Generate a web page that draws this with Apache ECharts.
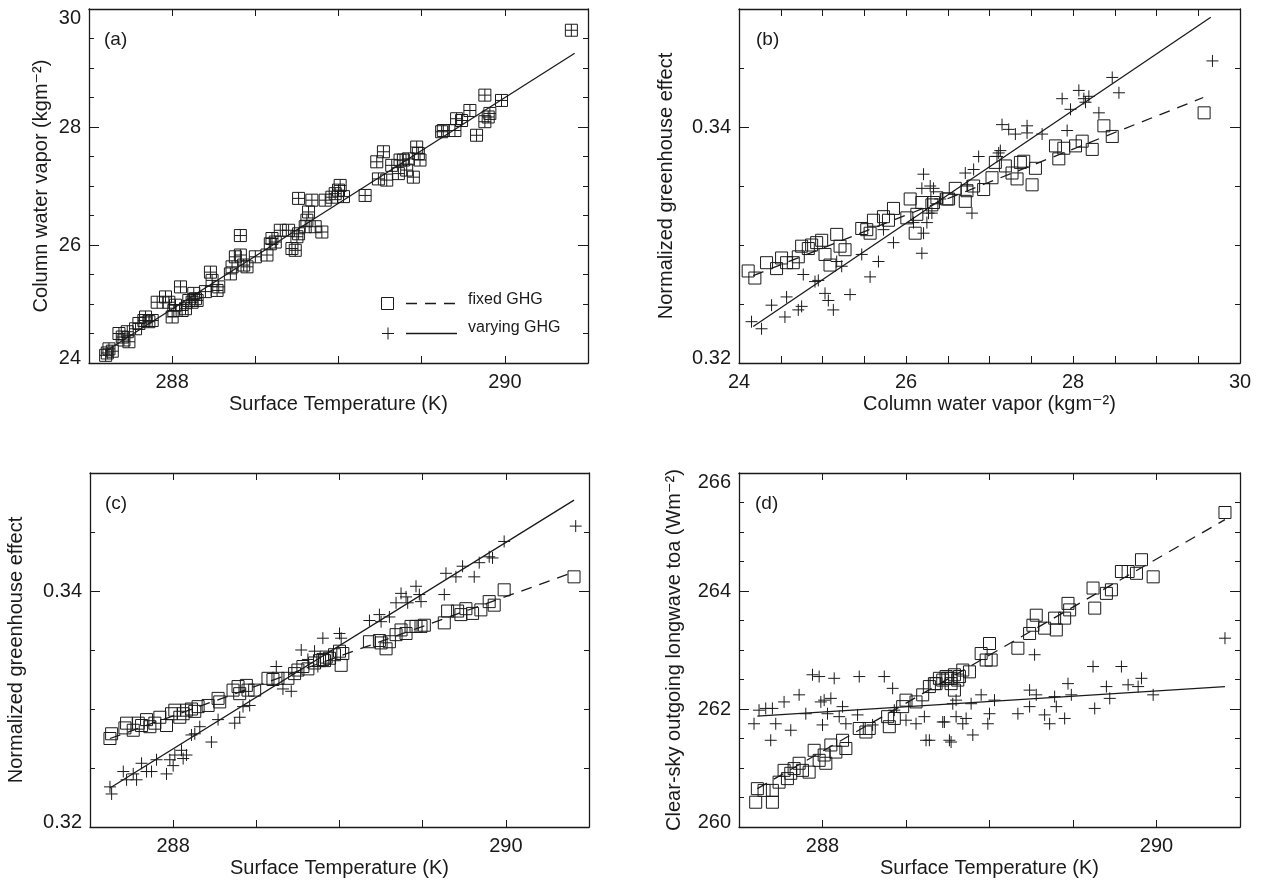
<!DOCTYPE html>
<html>
<head>
<meta charset="utf-8">
<script src="https://cdn.jsdelivr.net/npm/echarts@6/dist/echarts.min.js"></script>
<style>
  html, body { margin: 0; padding: 0; background: #ffffff; }
  #chart { width: 1263px; height: 882px; }
</style>
</head>
<body>
<div id="chart"></div>
<script>
// ---- (a) surface temperature vs column water vapour ----
const aTs = [287.60,287.62,287.64,287.61,287.68,287.70,287.73,287.74,287.71,287.78,287.80,287.83,287.84,287.86,287.88,
  287.91,287.96,287.98,288.00,288.01,288.02,288.05,288.06,288.08,288.10,288.12,288.13,288.14,288.15,
  288.20,288.23,288.24,288.27,288.28,
  288.35,288.36,288.38,288.41,288.41,288.43,288.45,288.50,288.57,
  288.59,288.60,288.62,288.65,288.70,288.72,288.74,288.75,288.76,288.76,288.80,288.81,288.82,288.84,288.86,288.90,288.92,288.96,288.98,289.00,289.01,
  289.03,
  289.16,289.23,289.24,289.27,289.29,289.32,289.36,289.37,289.39,289.41,289.42,289.45,289.47,289.48,289.49,
  289.62,289.63,289.70,289.71,289.74,289.79,289.83,289.88,289.90,289.91,289.88,289.98,290.40];
const aCwv = [24.13,24.24,24.20,24.17,24.50,24.44,24.53,24.36,24.39,24.58,24.67,24.72,24.78,24.70,24.72,
  25.03,25.12,25.03,24.78,24.89,24.98,25.29,24.89,24.92,25.06,25.03,25.18,25.09,25.06,
  25.21,25.54,25.40,25.23,25.29,
  25.51,25.63,25.80,26.16,25.83,25.66,25.63,25.80,25.83,
  26.02,26.11,26.05,26.25,26.25,25.94,25.91,26.14,26.19,26.79,26.31,26.42,26.56,26.76,26.31,26.22,26.76,26.81,26.87,26.93,27.01,
  26.82,
  26.84,27.41,27.12,27.58,27.10,27.35,27.21,27.44,27.44,27.27,27.46,27.15,27.66,27.55,27.44,
  27.92,27.94,27.94,28.14,28.11,28.28,27.86,28.09,28.17,28.23,28.54,28.45,29.64];
const aFitTs = [287.60, 290.42];
const aFitCwv = [24.20, 29.25];

// ---- (b) column water vapour vs normalized greenhouse effect ----
const bCwvFixed = [24.11,24.19,24.33,24.45,24.51,24.57,24.65,24.71,24.75,24.83,24.87,24.93,24.99,25.03,25.09,25.17,25.21,25.27,
  25.47,25.53,25.57,25.61,25.73,25.79,25.85,
  26.01,26.05,26.11,26.13,26.19,
  26.31,26.33,26.37,26.49,26.51,26.59,
  26.71,26.73,26.81,26.93,
  27.03,27.07,27.19,27.27,27.33,27.37,27.41,27.51,27.55,
  27.79,27.83,27.89,
  28.03,28.11,28.23,28.37,28.47,
  29.57];
const bGFixed = [0.3278,0.3272,0.3285,0.3280,0.3289,0.3285,0.3285,0.3290,0.3299,0.3297,0.3300,0.3302,0.3304,0.3292,0.3283,0.3309,0.3299,0.3296,
  0.3314,0.3313,0.3310,0.3321,0.3324,0.3321,0.3331,
  0.3323,0.3339,0.3310,0.3326,0.3336,
  0.3334,0.3336,0.3340,0.3339,0.3339,0.3348,
  0.3337,0.3346,0.3350,0.3347,
  0.3357,0.3370,0.3367,0.3361,0.3356,0.3370,0.3371,0.3351,0.3365,
  0.3384,0.3373,0.3382,
  0.3384,0.3388,0.3381,0.3401,0.3392,
  0.3412];
const bCwvVarying = [24.15,24.27,24.39,24.55,24.57,24.71,24.75,24.77,24.91,24.95,
  25.03,25.07,25.13,25.17,25.23,25.33,25.47,25.57,25.67,25.73,25.85,
  26.09,26.19,26.21,26.21,26.25,26.27,26.33,26.41,
  26.19,26.29,26.31,
  26.71,26.73,26.79,26.81,26.87,
  27.09,27.13,27.11,27.15,27.23,27.31,27.45,27.45,27.63,
  27.87,27.93,27.97,28.07,28.13,28.15,28.19,28.31,28.47,28.55,
  29.67];
const bGVarying = [0.3235,0.3229,0.3249,0.3239,0.3256,0.3245,0.3248,0.3275,0.3269,0.3270,
  0.3259,0.3253,0.3245,0.3286,0.3282,0.3258,0.3292,0.3273,0.3286,0.3313,0.3302,
  0.3319,0.3348,0.3360,0.3310,0.3319,0.3327,0.3348,0.3339,
  0.3293,0.3350,0.3327,
  0.3361,0.3350,0.3327,0.3364,0.3375,
  0.3375,0.3380,0.3378,0.3402,0.3398,0.3394,0.3401,0.3395,0.3394,
  0.3424,0.3397,0.3415,0.3431,0.3424,0.3421,0.3426,0.3412,0.3442,0.3429,
  0.3456];
const bFitFixedCwv = [24.17, 29.56];
const bFitFixedG = [0.3274, 0.3425];
const bFitVaryingCwv = [24.17, 29.65];
const bFitVaryingG = [0.3231, 0.3493];

// ---- (c) surface temperature vs normalized greenhouse effect ----
const cTsFixed = [287.62,287.63,287.71,287.72,287.76,287.79,287.81,287.84,287.86,287.89,
  287.92,287.96,287.99,288.01,288.04,288.06,288.08,288.11,288.13,288.15,
  288.21,288.27,288.28,288.36,288.39,288.40,288.44,288.45,288.49,288.57,
  288.60,288.63,288.69,288.73,288.75,288.78,288.81,288.85,288.88,288.91,288.94,
  288.90,288.92,288.97,289.00,289.01,289.02,
  289.18,289.24,289.25,289.28,289.30,289.34,289.37,289.40,289.43,289.46,
  289.49,289.51,289.63,289.65,289.71,289.73,289.76,289.80,289.85,289.90,
  289.93,289.99,290.41];
const cGFixed = [0.3275,0.3279,0.3284,0.3288,0.3282,0.3288,0.3286,0.3291,0.3285,0.3288,
  0.3293,0.3286,0.3296,0.3299,0.3293,0.3296,0.3299,0.3300,0.3298,0.3302,
  0.3303,0.3309,0.3306,0.3316,0.3319,0.3313,0.3320,0.3316,0.3316,0.3326,
  0.3325,0.3326,0.3326,0.3330,0.3333,0.3336,0.3334,0.3339,0.3341,0.3341,0.3343,
  0.3342,0.3344,0.3346,0.3349,0.3337,0.3347,
  0.3357,0.3358,0.3356,0.3351,0.3357,0.3363,0.3367,0.3364,0.3370,0.3370,
  0.3370,0.3371,0.3373,0.3383,0.3383,0.3380,0.3385,0.3381,0.3384,0.3391,
  0.3388,0.3401,0.3412];
const cTsVarying = [287.62,287.63,287.70,287.72,287.76,287.78,287.81,287.84,287.87,287.90,
  287.96,287.98,288.00,288.01,288.05,288.06,288.08,288.11,288.13,288.16,
  288.23,288.27,288.37,288.40,288.42,288.46,288.62,288.66,288.71,288.77,
  288.81,288.85,288.90,288.87,
  289.00,289.01,289.18,289.24,289.25,289.30,289.34,289.37,289.40,289.41,
  289.46,289.48,289.49,289.63,289.64,289.70,289.74,289.81,289.84,289.90,
  289.92,289.99,290.42];
const cGVarying = [0.3234,0.3228,0.3247,0.3240,0.3245,0.3240,0.3254,0.3247,0.3247,0.3257,
  0.3245,0.3257,0.3252,0.3261,0.3265,0.3258,0.3261,0.3278,0.3279,0.3285,
  0.3272,0.3291,0.3288,0.3293,0.3302,0.3303,0.3336,0.3317,0.3315,0.3350,
  0.3342,0.3349,0.3360,0.3336,
  0.3364,0.3360,0.3375,0.3380,0.3374,0.3378,0.3390,0.3398,0.3395,0.3390,
  0.3404,0.3397,0.3391,0.3397,0.3415,0.3412,0.3421,0.3412,0.3424,0.3429,
  0.3428,0.3442,0.3455];
const cFitTs = [287.62, 290.41];
const cFitFixedG = [0.3275, 0.3416];
const cFitVaryingG = [0.3233, 0.3477];

// ---- (d) surface temperature vs clear-sky outgoing longwave ----
const dTsFixed = [287.61,287.60,287.65,287.70,287.70,287.74,287.77,287.79,287.81,287.83,
  287.86,287.88,287.92,287.95,287.98,288.01,288.02,288.05,288.08,288.12,
  288.14,288.22,288.26,288.28,288.39,288.40,288.43,288.48,288.50,288.56,
  288.60,288.64,288.67,288.70,288.74,288.77,288.79,288.81,
  288.68,288.72,288.75,288.77,288.79,288.82,288.84,288.88,288.95,288.98,289.00,289.01,289.17,
  289.24,289.26,289.28,289.33,289.39,289.40,289.45,289.47,289.48,289.62,
  289.63,289.70,289.73,289.79,289.83,289.88,289.91,289.98,290.41];
const dOlrFixed = [260.65,260.42,260.62,260.62,260.42,260.76,260.96,260.82,260.91,260.99,
  261.08,260.96,260.93,261.30,261.13,261.22,261.08,261.39,261.27,261.47,
  261.33,261.67,261.61,261.67,261.87,261.70,261.84,262.04,262.15,262.12,
  262.24,262.38,262.43,262.52,262.55,262.52,262.58,262.49,
  262.43,262.49,262.52,262.43,262.32,262.55,262.66,262.63,262.94,262.83,263.11,262.83,263.03,
  263.28,263.42,263.59,263.37,263.54,263.34,263.54,263.79,263.68,264.05,
  263.71,263.96,264.02,264.33,264.33,264.30,264.53,264.24,265.33];
const dTsVarying = [287.59,287.62,287.66,287.69,287.70,287.72,287.77,287.81,287.86,287.90,
  287.94,287.98,287.99,288.00,288.01,288.03,288.05,288.07,288.10,288.12,
  288.14,288.21,288.22,288.30,288.37,288.42,288.43,288.50,288.56,288.61,
  288.62,288.72,288.76,288.78,288.80,
  288.64,288.73,288.77,288.80,288.84,288.86,288.89,288.90,288.95,288.99,
  289.00,289.03,289.17,289.24,289.24,289.27,289.28,289.33,289.36,289.39,
  289.40,289.45,289.47,289.49,289.62,289.63,289.70,289.72,289.79,289.83,
  289.89,289.91,289.98,290.41];
const dOlrVarying = [261.75,261.98,262.01,261.47,262.01,261.75,262.12,261.64,262.24,261.92,
  262.58,262.55,262.12,261.73,262.15,261.92,262.18,262.52,261.87,262.04,
  261.75,261.90,262.55,261.73,262.55,262.35,261.98,261.81,261.75,261.87,
  261.47,261.78,261.47,262.09,261.87,
  261.47,261.78,261.44,262.15,261.75,261.84,262.09,261.56,262.24,261.75,
  261.92,262.15,261.92,262.32,262.04,262.92,262.24,261.90,261.75,262.21,
  262.04,261.84,262.43,262.24,262.72,262.01,262.38,262.18,262.72,262.41,
  262.38,262.52,262.24,263.20];
const dFitTs = [287.61, 290.41];
const dFitFixedOlr = [260.65, 265.21];
const dFitVaryingOlr = [261.88, 262.38];

// ---- tick labels ----
const tsTickLabels = [288, 290];
const cwvTickLabels = [24, 26, 28, 30];
const gTickLabels = [0.32, 0.34];
const olrTickLabels = [260, 262, 264, 266];

const INK = '#1a1a1a';
const FONT = '"Liberation Sans", "DejaVu Sans", sans-serif';
const DASH = [11, 8];
const PLUS = 'path://M0,6L12,6M6,0L6,12';

function zip(xs, ys) {
  const n = Math.min(xs.length, ys.length);
  const out = [];
  for (let i = 0; i < n; i++) out.push([xs[i], ys[i]]);
  return out;
}
function inList(list, v) { return list.some(L => Math.abs(L - v) < 1e-7); }

const grids = [], xAxes = [], yAxes = [], series = [];
const labelText = { color: INK, fontFamily: FONT, fontSize: 20 };

function addPanel(p) {
  const gi = grids.length;
  grids.push(p.grid);
  const xi = xAxes.length;
  const xCommon = {
    gridIndex: gi, type: 'value', min: p.x.min, max: p.x.max, interval: p.x.step,
    splitLine: { show: false },
    axisLine: { show: true, onZero: false, lineStyle: { color: INK, width: 1.3 } },
    axisTick: { show: true, inside: true, length: 7, lineStyle: { color: INK, width: 1 } }
  };
  xAxes.push(Object.assign({}, xCommon, {
    position: 'bottom',
    axisLabel: Object.assign({}, labelText, {
      margin: 9, showMinLabel: true, showMaxLabel: true,
      formatter: v => inList(p.x.labels, v) ? v.toFixed(p.x.digits) : ''
    }),
    name: p.x.name, nameLocation: 'middle', nameGap: p.x.nameGap,
    nameTextStyle: labelText
  }));
  xAxes.push(Object.assign({}, xCommon, { position: 'top', axisLabel: { show: false } }));

  const yi = yAxes.length;
  const yCommon = {
    gridIndex: gi, type: 'value', min: p.y.min, max: p.y.max,
    splitLine: { show: false }
  };
  const yFmt = v => {
    if (!inList(p.y.labels, v)) return '';
    const s = v.toFixed(p.y.digits);
    if (Math.abs(v - p.y.min) < 1e-7) return '{lo|' + s + '}';
    if (Math.abs(v - p.y.max) < 1e-7) return '{hi|' + s + '}';
    return s;
  };
  ['left', 'right'].forEach(side => {
    yAxes.push(Object.assign({}, yCommon, {
      position: side, interval: p.y.minor,
      axisLine: { show: true, onZero: false, lineStyle: { color: INK, width: 1.3 } },
      axisTick: { show: true, inside: true, length: 5, lineStyle: { color: INK, width: 1 } },
      axisLabel: side === 'left' ? Object.assign({}, labelText, {
        margin: 8, showMinLabel: true, showMaxLabel: true, formatter: yFmt,
        rich: {
          lo: { fontFamily: FONT, fontSize: 20, color: INK, padding: [0, 0, 10, 0] },
          hi: { fontFamily: FONT, fontSize: 20, color: INK, padding: [18, 0, 0, 0] }
        }
      }) : { show: false },
      name: side === 'left' ? p.y.name : '',
      nameLocation: 'middle', nameGap: p.y.nameGap, nameRotate: 90,
      nameTextStyle: labelText
    }));
    yAxes.push(Object.assign({}, yCommon, {
      position: side, interval: p.y.major,
      axisLine: { show: false, onZero: false },
      axisTick: { show: true, inside: true, length: 10, lineStyle: { color: INK, width: 1 } },
      axisLabel: { show: false }
    }));
  });
  return { xi: xi, yi: yi };
}

function scatter(ax, xs, ys, kind) {
  series.push({
    type: 'scatter', xAxisIndex: ax.xi, yAxisIndex: ax.yi,
    data: zip(xs, ys),
    symbol: kind === 'box' ? 'rect' : PLUS,
    symbolSize: 12,
    itemStyle: { color: 'rgba(0,0,0,0)', borderColor: INK, borderWidth: 1, opacity: 1 },
    silent: true
  });
}
function fit(ax, xs, ys, dashed) {
  series.push({
    type: 'line', xAxisIndex: ax.xi, yAxisIndex: ax.yi,
    data: zip(xs, ys), showSymbol: false, symbol: 'none',
    lineStyle: { color: INK, width: 1.3, type: dashed ? DASH : 'solid' },
    silent: true, z: 3
  });
}

const tsAxis = (nameGap) => ({ min: 287.5, max: 290.5, step: 0.5, labels: tsTickLabels, digits: 0,
  name: 'Surface Temperature (K)', nameGap: nameGap });

const pa = addPanel({
  grid: { left: 89, top: 9, width: 499, height: 354 },
  x: tsAxis(31),
  y: { min: 24, max: 30, minor: 0.5, major: 2, labels: cwvTickLabels, digits: 0,
       name: 'Column water vapor (kgm⁻²)', nameGap: 38 }
});
const pb = addPanel({
  grid: { left: 739, top: 9, width: 501, height: 354 },
  x: { min: 24, max: 30, step: 0.5, labels: cwvTickLabels, digits: 0,
       name: 'Column water vapor (kgm⁻²)', nameGap: 31 },
  y: { min: 0.32, max: 0.35, minor: 0.005, major: 0.02, labels: gTickLabels, digits: 2,
       name: 'Normalized greenhouse effect', nameGap: 63 }
});
const pc = addPanel({
  grid: { left: 90, top: 473, width: 499, height: 354 },
  x: tsAxis(31),
  y: { min: 0.32, max: 0.35, minor: 0.005, major: 0.02, labels: gTickLabels, digits: 2,
       name: 'Normalized greenhouse effect', nameGap: 64 }
});
const pd = addPanel({
  grid: { left: 739, top: 473, width: 501, height: 354 },
  x: tsAxis(31),
  y: { min: 260, max: 266, minor: 0.5, major: 2, labels: olrTickLabels, digits: 0,
       name: 'Clear-sky outgoing longwave toa (Wm⁻²)', nameGap: 55 }
});

// (a): both experiments share the same water vapour, so boxes and crosses coincide
scatter(pa, aTs, aCwv, 'box');
scatter(pa, aTs, aCwv, 'plus');
fit(pa, aFitTs, aFitCwv, false);

scatter(pb, bCwvFixed, bGFixed, 'box');
scatter(pb, bCwvVarying, bGVarying, 'plus');
fit(pb, bFitFixedCwv, bFitFixedG, true);
fit(pb, bFitVaryingCwv, bFitVaryingG, false);

scatter(pc, cTsFixed, cGFixed, 'box');
scatter(pc, cTsVarying, cGVarying, 'plus');
fit(pc, cFitTs, cFitFixedG, true);
fit(pc, cFitTs, cFitVaryingG, false);

scatter(pd, dTsFixed, dOlrFixed, 'box');
scatter(pd, dTsVarying, dOlrVarying, 'plus');
fit(pd, dFitTs, dFitFixedOlr, true);
fit(pd, dFitTs, dFitVaryingOlr, false);

// panel tags and the key inside panel (a)
const tagStyle = { fill: INK, font: '19px ' + FONT };
const graphics = [
  { type: 'text', left: 104, top: 30, style: Object.assign({ text: '(a)' }, tagStyle) },
  { type: 'text', left: 756, top: 30, style: Object.assign({ text: '(b)' }, tagStyle) },
  { type: 'text', left: 105, top: 494, style: Object.assign({ text: '(c)' }, tagStyle) },
  { type: 'text', left: 755, top: 494, style: Object.assign({ text: '(d)' }, tagStyle) },
  { type: 'rect', shape: { x: 381.5, y: 297.5, width: 12, height: 12 },
    style: { fill: 'none', stroke: INK, lineWidth: 1 } },
  { type: 'line', shape: { x1: 406, y1: 303.5, x2: 457, y2: 303.5 },
    style: { stroke: INK, lineWidth: 1.3, lineDash: DASH } },
  { type: 'text', x: 468, y: 300, style: { text: 'fixed GHG', fill: INK, font: '16px ' + FONT, verticalAlign: 'middle' } },
  { type: 'line', shape: { x1: 382, y1: 333.5, x2: 394, y2: 333.5 }, style: { stroke: INK, lineWidth: 1 } },
  { type: 'line', shape: { x1: 388, y1: 327.5, x2: 388, y2: 339.5 }, style: { stroke: INK, lineWidth: 1 } },
  { type: 'line', shape: { x1: 406, y1: 333.5, x2: 457, y2: 333.5 }, style: { stroke: INK, lineWidth: 1.3 } },
  { type: 'text', x: 468, y: 328, style: { text: 'varying GHG', fill: INK, font: '16px ' + FONT, verticalAlign: 'middle' } }
];

const chart = echarts.init(document.getElementById('chart'), null, { renderer: 'canvas' });
chart.setOption({
  backgroundColor: '#ffffff',
  animation: false,
  grid: grids,
  xAxis: xAxes,
  yAxis: yAxes,
  series: series,
  graphic: graphics
});
</script>
</body>
</html>
